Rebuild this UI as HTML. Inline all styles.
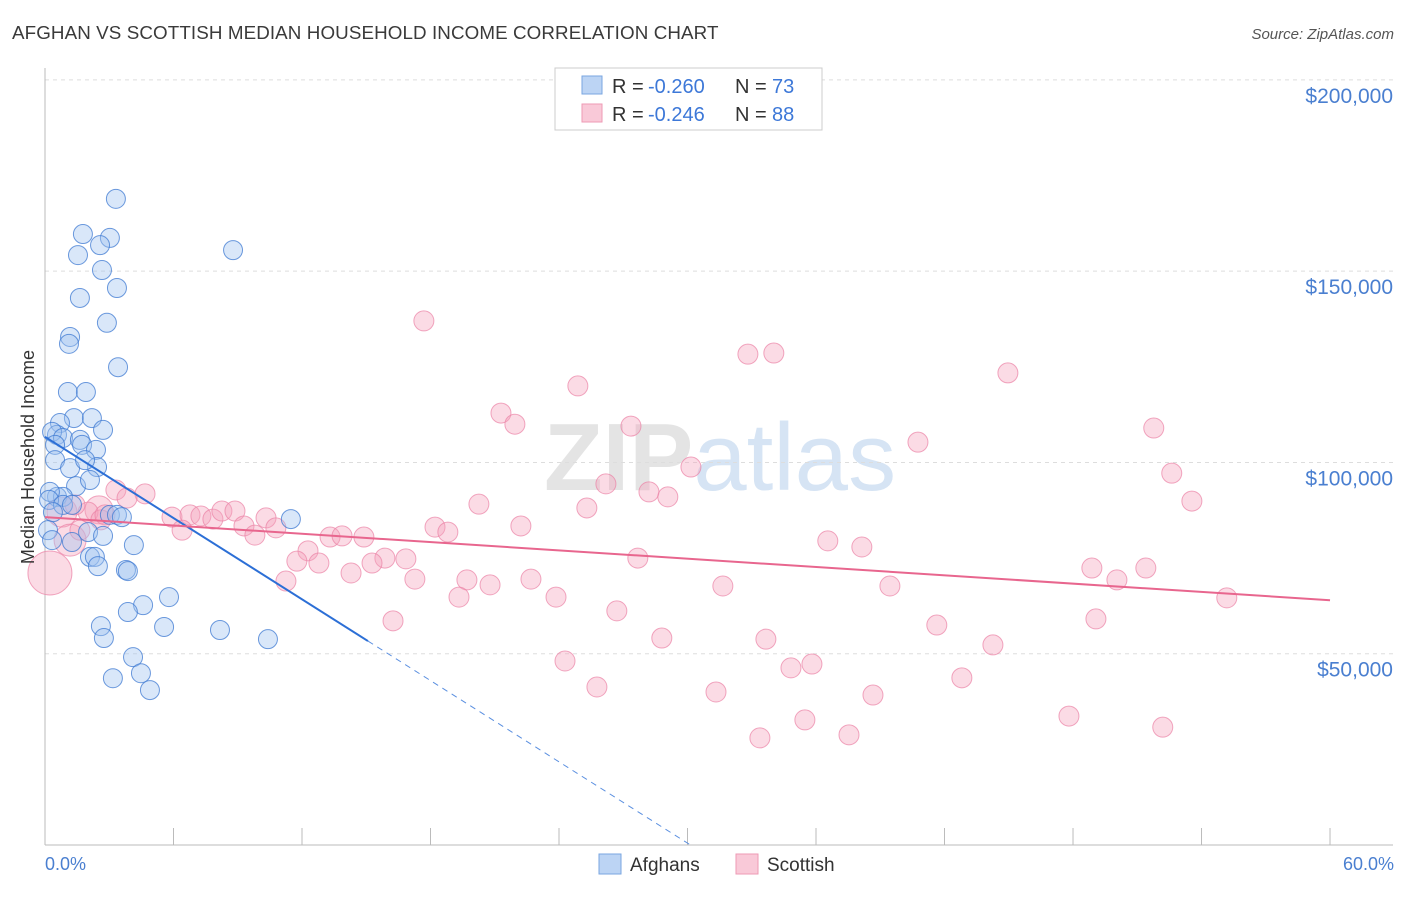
<!DOCTYPE html>
<html><head><meta charset="utf-8"><style>
body{margin:0;background:#fff;font-family:"Liberation Sans",sans-serif;}
svg text{font-family:"Liberation Sans",sans-serif;}
</style></head><body>
<svg id="chart" width="1406" height="892" viewBox="0 0 1406 892" xmlns="http://www.w3.org/2000/svg">
<text x="12" y="39" font-size="18.8" letter-spacing="0.1" fill="#3a3a3a">AFGHAN VS SCOTTISH MEDIAN HOUSEHOLD INCOME CORRELATION CHART</text>
<text x="1394" y="39" font-size="15" fill="#555" text-anchor="end" font-style="italic">Source: ZipAtlas.com</text>
<text x="720" y="490" font-size="96" fill="#e4e4e4" text-anchor="middle" font-family="Liberation Serif" font-weight="bold">ZIP<tspan fill="#d6e4f4" font-family="Liberation Sans" font-weight="normal">atlas</tspan></text>
<g id="grid"></g>
<g id="axes"></g>
<g id="pts"></g>
<g id="lines"></g>
<text transform="translate(34,457) rotate(-90)" font-size="18" fill="#333" text-anchor="middle">Median Household Income</text>
<text x="45" y="870" font-size="18" fill="#4a7fd0">0.0%</text>
<text x="1394" y="870" font-size="18" fill="#4a7fd0" text-anchor="end">60.0%</text>
<g>
<rect x="555" y="68" width="267" height="62" fill="#fff" stroke="#ccc"/>
<rect x="582" y="76" width="20" height="18" fill="#bcd4f4" stroke="#7aa6e0"/>
<rect x="582" y="104" width="20" height="18" fill="#f9c9d8" stroke="#ee9ab4"/>
<text x="612" y="93" font-size="20" fill="#333">R = </text>
<text x="648" y="93" font-size="20" fill="#3d78d8">-0.260</text>
<text x="735" y="93" font-size="20" fill="#333">N = </text>
<text x="772" y="93" font-size="20" fill="#3d78d8">73</text>
<text x="612" y="121" font-size="20" fill="#333">R = </text>
<text x="648" y="121" font-size="20" fill="#3d78d8">-0.246</text>
<text x="735" y="121" font-size="20" fill="#333">N = </text>
<text x="772" y="121" font-size="20" fill="#3d78d8">88</text>
</g>
<g>
<rect x="599" y="854" width="22" height="20" fill="#bcd4f4" stroke="#7aa6e0"/>
<text x="630" y="871" font-size="19" fill="#333">Afghans</text>
<rect x="736" y="854" width="22" height="20" fill="#f9c9d8" stroke="#ee9ab4"/>
<text x="767" y="871" font-size="19" fill="#333">Scottish</text>
</g>
</svg>
<script>
const yTicks=[50000,100000,150000,200000];
const yTickLabels=["$50,000","$100,000","$150,000","$200,000"];
const xTicks=[0,6,12,18,24,30,36,42,48,54,60];
const afghanX=[3.31,1.77,3.03,2.57,1.54,2.66,3.36,1.63,2.89,1.17,1.12,3.41,1.07,1.91,1.35,2.19,0.70,0.56,0.33,0.84,1.63,2.71,1.73,2.38,0.47,0.47,1.17,2.43,1.87,1.45,2.10,0.56,0.84,0.23,0.19,0.84,0.37,3.03,3.36,3.59,11.48,0.14,2.01,2.71,1.26,4.15,2.10,2.33,2.47,3.78,3.87,5.79,4.58,3.87,2.61,5.56,8.17,2.75,10.41,4.11,4.48,3.17,4.90,8.78,0.33,1.26];
const afghanY=[168.9,159.7,158.7,156.8,154.2,150.3,145.6,143.0,136.5,132.8,131.0,124.9,118.4,118.4,111.6,111.6,110.3,107.2,108.0,106.4,105.9,108.5,104.6,103.3,104.6,100.6,98.5,98.8,100.6,93.8,95.4,91.0,91.0,92.3,90.2,88.9,87.0,86.3,86.3,85.7,85.2,82.3,81.8,80.8,79.2,78.4,75.3,75.3,72.9,71.9,71.6,64.8,62.7,60.9,57.2,57.0,56.2,54.1,53.8,49.1,44.9,43.6,40.5,155.5,79.7,88.9];
const scotX=[17.69,32.82,34.03,24.88,44.96,21.29,21.94,27.36,51.77,40.76,30.16,52.61,26.19,28.20,29.08,53.55,20.26,25.30,4.67,3.31,3.83,2.52,2.01,0.79,1.40,2.61,5.93,6.77,7.28,7.84,8.26,8.87,10.32,9.29,10.78,6.40,9.80,13.31,13.87,14.89,18.21,18.81,22.22,36.55,38.14,12.28,11.76,12.79,15.87,16.85,15.27,14.29,27.68,48.88,51.40,50.05,31.65,39.45,11.25,17.27,19.70,20.78,22.69,23.86,19.33,26.70,16.25,55.18,49.07,41.64,28.80,33.66,44.26,24.28,35.81,34.83,25.77,31.33,38.66,42.81,35.48,47.81,52.19,33.38,37.54,0.23,1.17,1.63,2.80];
const scotY=[137.0,128.3,128.6,120.0,123.4,112.9,110.0,109.5,109.0,105.3,98.8,97.2,94.4,92.3,91.0,89.9,89.1,88.1,91.8,92.8,90.7,87.6,87.0,87.0,88.9,85.0,85.7,86.3,86.0,85.2,87.3,87.3,85.5,83.4,82.9,82.3,81.0,80.5,80.8,80.5,83.1,81.8,83.4,79.5,77.9,76.9,74.2,73.7,75.0,74.8,73.7,71.1,75.0,72.4,72.4,69.3,67.7,67.7,69.0,69.5,69.3,68.0,69.5,64.8,64.8,61.2,58.6,64.6,59.1,57.5,54.1,53.8,52.3,48.1,47.3,46.3,41.3,40.0,39.2,43.7,32.7,33.7,30.8,28.0,28.8,71.1,79.7,82.3,86.3];
const scotR=[10,10,10,10,10,10,10,10,10,10,10,10,10,10,10,10,10,10,10,10,10,14,10,15,10,10,10,10,10,10,10,10,10,10,10,10,10,10,10,10,10,10,10,10,10,10,10,10,10,10,10,10,10,10,10,10,10,10,10,10,10,10,10,10,10,10,10,10,10,10,10,10,10,10,10,10,10,10,10,10,10,10,10,10,10,22,16,10,10];
const afghanTrend=[106.7,-3.54];
const scotTrend=[85.7,-0.362];
const NS="http://www.w3.org/2000/svg";
const xs=p=>45+p*21.417;
const ys=v=>845-v*1000/261.4;
function mk(tag,attrs,parent){const e=document.createElementNS(NS,tag);for(const k in attrs)e.setAttribute(k,attrs[k]);parent.appendChild(e);return e;}
const grid=document.getElementById('grid'),axes=document.getElementById('axes'),pts=document.getElementById('pts'),lines=document.getElementById('lines');
yTicks.forEach((t,i)=>{
 const y=ys(t/1000);
 const l=mk('line',{x1:45,x2:1393,y1:y,y2:y,stroke:'#ddd','stroke-dasharray':'4,4'},grid);
 
 
 const tx=mk('text',{x:1393,y:y+23,'font-size':21,fill:'#4a7fd0','text-anchor':'end'},grid);
 tx.textContent=yTickLabels[i];
 
 
});
const ax=mk('line',{x1:45,x2:45,y1:68,y2:845,stroke:'#bbb'},axes);


const bx=mk('line',{x1:45,x2:1393,y1:845,y2:845,stroke:'#bbb'},axes);


xTicks.forEach(t=>{const l=mk('line',{x1:xs(t),x2:xs(t),y1:828,y2:845,stroke:'#bbb'},axes);
 
 });
scotX.forEach((x,i)=>{const c=mk('circle',{cx:xs(x),cy:ys(scotY[i]),r:scotR[i],fill:'rgba(244,160,186,0.38)',stroke:'rgba(235,130,165,0.7)','stroke-width':1},pts);
 
 });
afghanX.forEach((x,i)=>{const c=mk('circle',{cx:xs(x),cy:ys(afghanY[i]),r:9.5,fill:'rgba(160,196,240,0.4)',stroke:'rgba(60,120,210,0.75)','stroke-width':1},pts);
 
 });
const f=(t,x)=>t[0]+t[1]*x;
const bl=mk('line',{x1:xs(0),y1:ys(f(afghanTrend,0)),x2:xs(15.08),y2:ys(f(afghanTrend,15.08)),stroke:'#2c6fd6','stroke-width':2},lines);


const xz=-afghanTrend[0]/afghanTrend[1];
const bd=mk('line',{x1:xs(15.08),y1:ys(f(afghanTrend,15.08)),x2:xs(xz),y2:ys(0),stroke:'#5a8fe0','stroke-width':1,'stroke-dasharray':'6,5'},lines);


const pl=mk('line',{x1:xs(0),y1:ys(f(scotTrend,0)),x2:xs(60),y2:ys(f(scotTrend,60)),stroke:'#e8668e','stroke-width':2},lines);


</script>
</body></html>
